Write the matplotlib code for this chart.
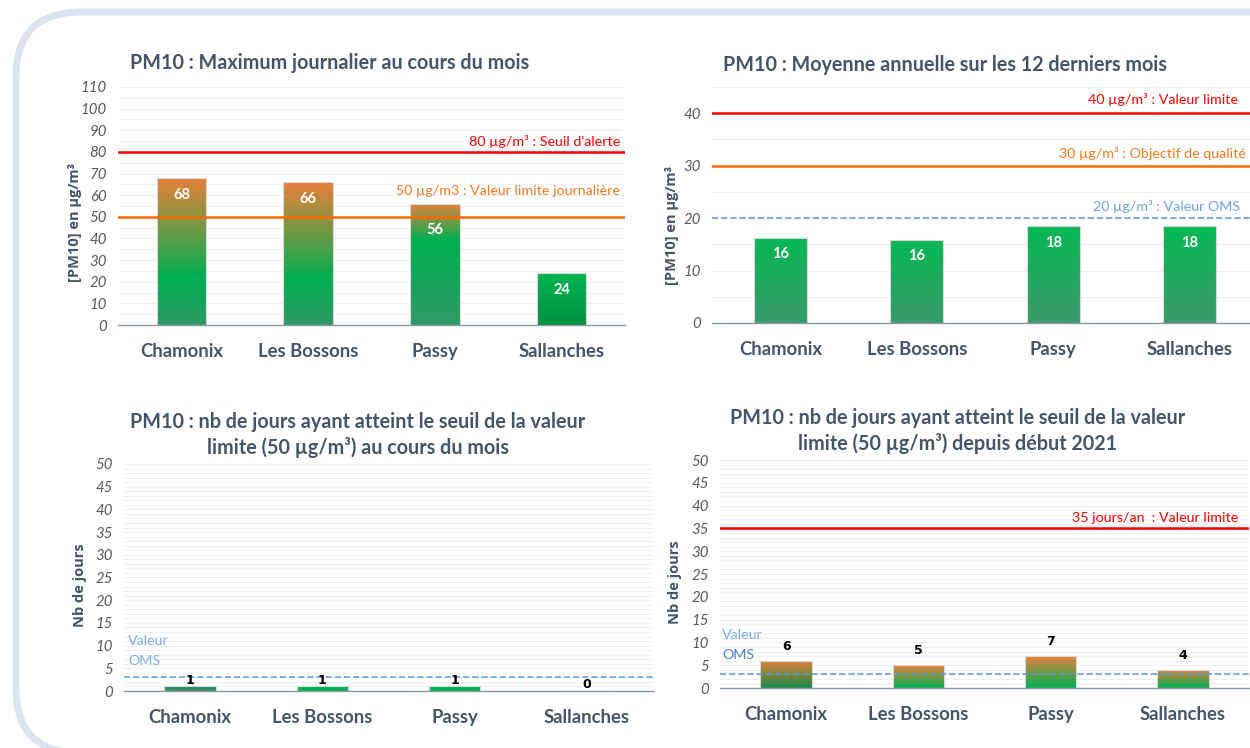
import matplotlib
matplotlib.use("Agg")
import matplotlib.pyplot as plt
import numpy as np
from matplotlib import font_manager
from matplotlib.colors import LinearSegmentedColormap
from matplotlib.patches import FancyBboxPatch
from matplotlib.ticker import MultipleLocator
from matplotlib.transforms import IdentityTransform, blended_transform_factory

# --- Données ---
stations = ["Chamonix", "Les Bossons", "Passy", "Sallanches"]
max_journalier = [68, 66, 56, 24]
moyenne_annuelle = [16.3, 15.9, 18.4, 18.4]
jours_mois = [1, 1, 1, 0]
jours_depuis_2021 = [6, 5, 7, 4]

seuil_alerte = 80
valeur_limite_journaliere = 50
valeur_limite_annuelle = 40
objectif_qualite = 30
valeur_oms_annuelle = 20
valeur_limite_jours = 35
valeur_oms_jours = 3

# --- Polices ---
installed = {f.name for f in font_manager.fontManager.ttflist}
NARROW = "Liberation Sans Narrow" if "Liberation Sans Narrow" in installed else "Lato"
TITLE_FONT = "Lato"

SLATE = "#44546a"
GREY = "#595959"
RED = "#ff0000"
ORANGE = "#ff6600"
BLUE = "#5b9bd5"

# --- Dégradés des barres (bas -> haut) ---
grad_p1 = [
    [(0, "#2e9966"), (0.32, "#00b050"), (1, "#e8803a")],
    [(0, "#2e9966"), (0.32, "#00b050"), (1, "#e8803a")],
    [(0, "#2e9966"), (0.70, "#00b050"), (1, "#e8803a")],
    [(0, "#00913f"), (1, "#00b550")],
]
grad_p2 = [[(0, "#3a9a6a"), (1, "#05b853")]] * 4
grad_p3 = [
    [(0, "#2a9060"), (1, "#2e8b57")],
    [(0, "#00b050"), (1, "#00b050")],
    [(0, "#00b050"), (1, "#00b050")],
    [(0, "#00b050"), (1, "#00b050")],
]
grad_p4 = [
    [(0, "#178a48"), (1, "#e8803a")],
    [(0, "#00b050"), (1, "#e8803a")],
    [(0, "#00b050"), (1, "#e8803a")],
    [(0, "#00b050"), (1, "#e8803a")],
]


def gradient_bars(ax, values, width, stops_list):
    bars = ax.bar(range(len(values)), values, width=width, facecolor="none",
                  edgecolor="#d9d9d9", linewidth=0.8, zorder=2)
    grad = np.linspace(0, 1, 256).reshape(-1, 1)
    for patch, stops in zip(bars, stops_list):
        h = patch.get_height()
        if h <= 0:
            continue
        x0 = patch.get_x()
        cmap = LinearSegmentedColormap.from_list("g", stops)
        im = ax.imshow(grad, cmap=cmap, origin="lower", aspect="auto",
                       extent=[x0, x0 + patch.get_width(), 0, h], zorder=1.9)
        im.set_clip_path(patch)
    return bars


def style_axes(ax, ymax, major, minor, ylabel, label_xy):
    ax.set_xlim(-0.5, len(stations) - 0.5)
    ax.set_ylim(0, ymax)
    ax.yaxis.set_major_locator(MultipleLocator(major))
    ax.yaxis.set_minor_locator(MultipleLocator(minor))
    ax.set_axisbelow(True)
    ax.grid(axis="y", which="both", color="#f0f0f0", linewidth=0.8)
    for s in ["top", "right", "left"]:
        ax.spines[s].set_visible(False)
    ax.spines["bottom"].set_color("#8a98aa")
    ax.spines["bottom"].set_linewidth(1.0)
    ax.tick_params(axis="both", which="both", length=0)
    ax.tick_params(axis="y", pad=8)
    ax.tick_params(axis="x", pad=13)
    ax.set_xticks(range(len(stations)))
    ax.set_xticklabels(stations, fontsize=13.3, fontweight="bold",
                       color=SLATE, family=TITLE_FONT)
    for t in ax.get_yticklabels():
        t.set_fontstyle("italic")
        t.set_fontsize(10.8)
        t.set_color(GREY)
        t.set_family(TITLE_FONT)
    ax.set_ylabel(ylabel, fontsize=10.5, fontweight="bold", color=SLATE,
                  family="Open Sans")
    ax.yaxis.set_label_coords(*label_xy)


fig = plt.figure(figsize=(12.5, 7.48), dpi=100)
fig.patch.set_facecolor("white")

# cadre arrondi
cadre = FancyBboxPatch((16, -5), 1320, 741, boxstyle="round,pad=0,rounding_size=65",
                       transform=IdentityTransform(), facecolor="none",
                       edgecolor="#dbe3f1", linewidth=5, zorder=0)
fig.add_artist(cadre)

ax1 = fig.add_axes([0.0944, 0.5655, 0.4056, 0.3182])
ax2 = fig.add_axes([0.5696, 0.5682, 0.4368, 0.3155])
ax3 = fig.add_axes([0.0992, 0.0762, 0.4232, 0.3035])
ax4 = fig.add_axes([0.576, 0.0802, 0.4232, 0.3048])

ylab_ug = "[PM10] en µg/m³"
txt_size = 10.3

# --- Panneau 1 ---
b1 = gradient_bars(ax1, max_journalier, 0.39, grad_p1)
style_axes(ax1, 110, 10, 5, ylab_ug, (-0.071, 0.43))
ax1.axhline(seuil_alerte, color=RED, lw=1.8, zorder=3)
ax1.axhline(valeur_limite_journaliere, color=ORANGE, lw=1.8, zorder=3)
tr1 = blended_transform_factory(ax1.transAxes, ax1.transData)
ax1.text(0.99, seuil_alerte + 2, "80 µg/m³ : Seuil d'alerte", transform=tr1,
         ha="right", va="bottom", color=RED, fontsize=txt_size, family=NARROW)
ax1.text(0.99, valeur_limite_journaliere + 9, "50 µg/m3 : Valeur limite journalière",
         transform=tr1, ha="right", va="bottom", color="#f47920", fontsize=txt_size, family=NARROW)
offsets_p1 = [-12, -12, -19, -12]
for patch, v, off in zip(b1, max_journalier, offsets_p1):
    ax1.annotate(f"{v:.0f}", (patch.get_x() + patch.get_width() / 2, v),
                 xytext=(0, off), textcoords="offset points", ha="center", va="center",
                 color="white", fontsize=10.5, fontweight="bold", family=TITLE_FONT, zorder=4)

# --- Panneau 2 ---
b2 = gradient_bars(ax2, moyenne_annuelle, 0.39, grad_p2)
style_axes(ax2, 45, 10, 5, ylab_ug, (-0.06, 0.415))
ax2.axhline(valeur_limite_annuelle, color=RED, lw=1.8, zorder=3)
ax2.axhline(objectif_qualite, color=ORANGE, lw=1.8, zorder=3)
ax2.axhline(valeur_oms_annuelle, color=BLUE, lw=1.1, ls=(0, (4, 2)), zorder=3)
tr2 = blended_transform_factory(ax2.transAxes, ax2.transData)
ax2.text(0.963, valeur_limite_annuelle + 1.4, "40 µg/m³ : Valeur limite", transform=tr2,
         ha="right", va="bottom", color=RED, fontsize=txt_size, family=NARROW)
ax2.text(0.978, objectif_qualite + 1.0, "30 µg/m³ : Objectif de qualité", transform=tr2,
         ha="right", va="bottom", color="#f47920", fontsize=txt_size, family=NARROW)
ax2.text(0.967, valeur_oms_annuelle + 0.9, "20 µg/m³ : Valeur OMS", transform=tr2,
         ha="right", va="bottom", color="#6fa3da", fontsize=txt_size, family=NARROW)
for patch, v in zip(b2, moyenne_annuelle):
    ax2.annotate(f"{v:.0f}", (patch.get_x() + patch.get_width() / 2, v),
                 xytext=(0, -12), textcoords="offset points", ha="center", va="center",
                 color="white", fontsize=10.5, fontweight="bold", family=TITLE_FONT, zorder=4)

# --- Panneau 3 ---
b3 = gradient_bars(ax3, jours_mois, 0.39, grad_p3)
style_axes(ax3, 50, 5, 1, "Nb de jours", (-0.07, 0.467))
ax3.axhline(valeur_oms_jours, color=BLUE, lw=1.1, ls=(0, (4, 2)), zorder=3)
tr3 = blended_transform_factory(ax3.transAxes, ax3.transData)
ax3.text(0.008, 11, "Valeur", transform=tr3, ha="left", va="center",
         color="#7aaee0", fontsize=txt_size, family=NARROW)
ax3.text(0.008, 6.6, "OMS", transform=tr3, ha="left", va="center",
         color="#7aaee0", fontsize=txt_size, family=NARROW)
for patch, v in zip(b3, jours_mois):
    ax3.annotate(f"{v:.0f}", (patch.get_x() + patch.get_width() / 2, v),
                 xytext=(0, 4.5), textcoords="offset points", ha="center", va="center",
                 color="black", fontsize=9, fontweight="bold", family="DejaVu Sans", zorder=4)

# --- Panneau 4 ---
b4 = gradient_bars(ax4, jours_depuis_2021, 0.39, grad_p4)
style_axes(ax4, 50, 5, 1, "Nb de jours", (-0.072, 0.465))
ax4.axhline(valeur_limite_jours, color=RED, lw=1.8, zorder=3)
ax4.axhline(valeur_oms_jours, color=BLUE, lw=1.1, ls=(0, (4, 2)), zorder=3)
tr4 = blended_transform_factory(ax4.transAxes, ax4.transData)
ax4.text(0.979, valeur_limite_jours + 1.0, "35 jours/an  : Valeur limite", transform=tr4,
         ha="right", va="bottom", color=RED, fontsize=txt_size, family=NARROW)
ax4.text(0.004, 11.6, "Valeur", transform=tr4, ha="left", va="center",
         color="#7aaee0", fontsize=txt_size, family=NARROW)
ax4.text(0.004, 7.2, "OMS", transform=tr4, ha="left", va="center",
         color="#4f81c7", fontsize=txt_size, family=NARROW)
for patch, v in zip(b4, jours_depuis_2021):
    ax4.annotate(f"{v:.0f}", (patch.get_x() + patch.get_width() / 2, v),
                 xytext=(0, 10.5), textcoords="offset points", ha="center", va="center",
                 color="black", fontsize=9, fontweight="bold", family="DejaVu Sans", zorder=4)

# --- Titres ---
titre_kw = dict(ha="center", va="center", fontsize=14.2, fontweight="bold",
                color=SLATE, family=TITLE_FONT, linespacing=1.3)
fig.text(330 / 1250, 1 - 63 / 748, "PM10 : Maximum journalier au cours du mois", **titre_kw)
fig.text(945 / 1250, 1 - 65 / 748, "PM10 : Moyenne annuelle sur les 12 derniers mois", **titre_kw)
fig.text(358 / 1250, 1 - 435 / 748,
         "PM10 : nb de jours ayant atteint le seuil de la valeur\nlimite (50 µg/m³) au cours du mois",
         **titre_kw)
fig.text(958 / 1250, 1 - 431 / 748,
         "PM10 : nb de jours ayant atteint le seuil de la valeur\nlimite (50 µg/m³) depuis début 2021",
         **titre_kw)

fig.savefig("out.png", dpi=100, facecolor="white")
